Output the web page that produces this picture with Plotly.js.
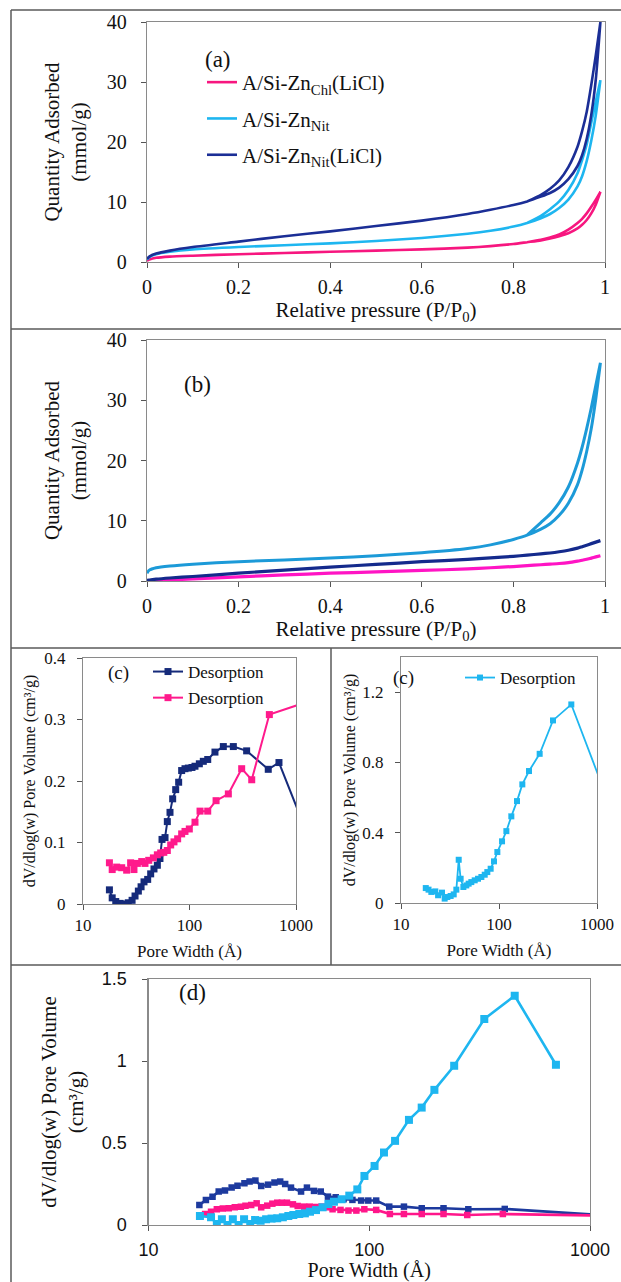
<!DOCTYPE html>
<html><head><meta charset="utf-8">
<script src="https://cdn.plot.ly/plotly-3.0.1.min.js"></script>
<style>html,body{margin:0;padding:0;background:#fff}#chart{width:621px;height:1282px}</style>
</head><body><div id="chart"></div><script>
// ---------- (a) N2 isotherms ----------
const pAds = [0, 0.005, 0.02, 0.05, 0.1, 0.2, 0.3, 0.4, 0.5, 0.6, 0.7, 0.75, 0.8, 0.83, 0.86, 0.88, 0.9, 0.92, 0.94, 0.95, 0.96, 0.97, 0.98, 0.99];
const pDes = [0.99, 0.98, 0.97, 0.96, 0.95, 0.94, 0.92, 0.9, 0.88, 0.86, 0.83];
const aChlLiClAds = [0.2, 0.4, 0.7, 0.9, 1.05, 1.3, 1.5, 1.7, 1.9, 2.1, 2.4, 2.65, 3.0, 3.3, 3.6, 3.9, 4.3, 4.8, 5.6, 6.2, 7.0, 8.1, 9.6, 11.7];
const aChlLiClDes = [11.7, 10.4, 9.2, 8.1, 7.2, 6.5, 5.4, 4.6, 4.1, 3.7, 3.3];
const aNitAds = [0.4, 0.8, 1.3, 1.7, 2.1, 2.5, 2.8, 3.1, 3.5, 4.0, 4.7, 5.2, 5.9, 6.5, 7.3, 8.0, 9.0, 10.4, 12.6, 14.3, 16.8, 20.2, 24.5, 30.3];
const aNitDes = [30.3, 26.8, 23.2, 19.6, 17.0, 14.8, 12.0, 10.1, 8.8, 7.7, 6.5];
const aNitLiClAds = [0.5, 0.9, 1.4, 1.9, 2.5, 3.4, 4.3, 5.1, 6.0, 6.9, 8.0, 8.7, 9.5, 10.1, 10.9, 11.5, 12.4, 13.8, 16.0, 17.8, 20.5, 24.5, 30.5, 40.0];
const aNitLiClDes = [40.0, 34.5, 29.5, 25.0, 21.8, 19.2, 15.8, 13.6, 12.2, 11.2, 10.1];
// ---------- (b) isotherms ----------
const bBlueAds = [1.3, 1.8, 2.2, 2.5, 2.8, 3.2, 3.5, 3.8, 4.2, 4.7, 5.4, 6.0, 6.9, 7.6, 8.6, 9.5, 10.9, 12.9, 16.0, 18.4, 21.5, 25.3, 30.3, 36.2];
const bBlueDes = [36.2, 32.5, 28.7, 25.3, 22.2, 19.6, 15.6, 13.0, 11.1, 9.7, 7.6];
const bNavy = [0.1, 0.15, 0.3, 0.5, 0.75, 1.3, 1.8, 2.3, 2.75, 3.2, 3.6, 3.85, 4.1, 4.3, 4.5, 4.65, 4.85, 5.1, 5.45, 5.7, 5.95, 6.2, 6.45, 6.7];
const bPink = [0, 0.03, 0.1, 0.2, 0.35, 0.7, 1.0, 1.3, 1.5, 1.75, 2.0, 2.2, 2.4, 2.55, 2.7, 2.8, 2.9, 3.05, 3.3, 3.45, 3.6, 3.8, 4.0, 4.2];
// ---------- (c) pore size distributions ----------
const cNavyW = [17.7, 18.8, 20.3, 22.3, 24.4, 26.6, 28.9, 30.8, 33.1, 35.1, 37.4, 40.5, 43.2, 46.4, 49.9, 52.8, 55.2, 58.9, 61.9, 65.6, 69.5, 74.2, 79.1, 84.4, 90.7, 97.5, 105.5, 112.6, 123.7, 134.8, 148.3, 173.4, 207.8, 258, 344, 549, 692, 1100];
const cNavyV = [0.023, 0.010, 0.004, 0.001, 0, 0.002, 0.006, 0.013, 0.021, 0.028, 0.036, 0.040, 0.049, 0.057, 0.063, 0.074, 0.105, 0.108, 0.134, 0.149, 0.171, 0.186, 0.198, 0.217, 0.220, 0.221, 0.222, 0.224, 0.228, 0.232, 0.235, 0.247, 0.256, 0.256, 0.249, 0.219, 0.230, 0.142];
const cPinkW = [17.7, 18.8, 20.7, 23.1, 25.7, 28.0, 30.1, 32.4, 35.6, 38.2, 41.4, 45.8, 49.9, 53.6, 57.4, 61.9, 66.6, 71.5, 77.4, 84.4, 90.7, 99.6, 112.6, 125.6, 148.3, 177.6, 231.6, 309, 384, 562, 1100];
const cPinkV = [0.067, 0.056, 0.060, 0.059, 0.055, 0.067, 0.056, 0.066, 0.069, 0.066, 0.071, 0.075, 0.080, 0.083, 0.084, 0.087, 0.096, 0.101, 0.106, 0.114, 0.118, 0.122, 0.133, 0.151, 0.151, 0.168, 0.179, 0.220, 0.202, 0.308, 0.325];
const cBlueW = [17.9, 19.1, 20.4, 22.4, 23.9, 26.2, 27.9, 29.7, 32.1, 34.5, 36.7, 38.8, 40.6, 43.3, 46.4, 49.0, 52.2, 56.5, 61.1, 66.1, 71.5, 76.0, 82.2, 88.9, 96.2, 107.4, 118.9, 133.6, 152.7, 173.0, 202.4, 260, 355.6, 547, 1100];
const cBlueV = [0.085, 0.076, 0.063, 0.066, 0.044, 0.059, 0.025, 0.034, 0.040, 0.049, 0.076, 0.246, 0.138, 0.091, 0.100, 0.110, 0.119, 0.129, 0.138, 0.148, 0.161, 0.176, 0.195, 0.237, 0.290, 0.351, 0.409, 0.493, 0.580, 0.675, 0.751, 0.849, 1.039, 1.130, 0.685];
// ---------- (d) pore size distributions ----------
const dNavyW = [17.0, 18.2, 19.5, 20.8, 22.2, 23.8, 25.3, 27.2, 28.7, 30.5, 32.4, 34.8, 37.2, 39.5, 41.6, 44.2, 49.1, 52.2, 56.2, 60.3, 65.0, 70.5, 76.5, 83.9, 91.9, 99.0, 107.5, 123.2, 143.6, 172.9, 217, 281, 411, 1100];
const dNavyV = [0.122, 0.153, 0.173, 0.204, 0.210, 0.228, 0.240, 0.254, 0.265, 0.271, 0.238, 0.246, 0.259, 0.265, 0.250, 0.228, 0.204, 0.228, 0.208, 0.204, 0.173, 0.169, 0.157, 0.153, 0.149, 0.149, 0.149, 0.112, 0.112, 0.102, 0.102, 0.096, 0.098, 0.0615];
const dPinkW = [17.0, 18.05, 19.2, 20.4, 21.7, 23.1, 24.6, 26.2, 27.5, 29.2, 30.9, 32.4, 34.5, 36.4, 38.3, 40.2, 42.4, 45.1, 47.4, 50.7, 53.7, 57.1, 60.8, 64.2, 68.2, 74.1, 80.5, 87.4, 95.0, 107.5, 124, 143.6, 172.9, 217, 278, 403, 1100];
const dPinkV = [0.055, 0.067, 0.081, 0.096, 0.100, 0.102, 0.108, 0.112, 0.118, 0.122, 0.132, 0.108, 0.118, 0.130, 0.136, 0.136, 0.136, 0.126, 0.116, 0.112, 0.112, 0.110, 0.112, 0.108, 0.096, 0.092, 0.088, 0.088, 0.096, 0.092, 0.067, 0.067, 0.067, 0.067, 0.061, 0.067, 0.058];
const dBlueW = [17.1, 19.2, 20.4, 21.5, 22.8, 24.1, 25.6, 27.1, 28.9, 30.4, 32.2, 34.1, 36.1, 38.3, 40.6, 43.0, 45.3, 48.2, 51.1, 53.9, 57.4, 61.5, 65.3, 69.2, 75.0, 81.2, 88.3, 95.1, 105.7, 116.6, 130.9, 151.3, 172.8, 197.3, 242.5, 332, 456, 701];
const dBlueV = [0.055, 0.047, 0.006, 0.035, 0.0, 0.035, 0.0, 0.035, 0.006, 0.030, 0.026, 0.035, 0.039, 0.041, 0.047, 0.055, 0.061, 0.067, 0.071, 0.081, 0.091, 0.108, 0.128, 0.142, 0.157, 0.179, 0.217, 0.299, 0.360, 0.442, 0.513, 0.641, 0.716, 0.824, 0.971, 1.256, 1.398, 0.977];

const names = {
  chl: 'A/Si-Zn<sub>Chl</sub>(LiCl)',
  nit: 'A/Si-Zn<sub>Nit</sub>',
  nitLi: 'A/Si-Zn<sub>Nit</sub>(LiCl)',
  des: 'Desorption'
};

const PINK = '#f7167f', LBLUE = '#1eb6f0', NAVY = '#1b2e96';
const PINK_B = '#ff14c4', LBLUE_B = '#1c9ad8', NAVY_B = '#142a8c';
const NAVY_C = '#152a7a', PINK_C = '#ff1a8c';
const NAVY_D = '#1d3a9e', PINK_D = '#ff168a';

const W = 621, H = 1282;
const fx = p => p / W, fy = p => 1 - p / H;
const SERIF = '"Liberation Serif", "Times New Roman", Times, serif';
const SANS = '"Liberation Sans", Arial, Helvetica, sans-serif';
const INK = '#111';

const loop = (ads, des) => ads.concat(des);
const loopX = pAds.concat(pDes);

const traces = [
  // (a)
  {x: loopX, y: loop(aChlLiClAds, aChlLiClDes), xaxis: 'x', yaxis: 'y', mode: 'lines', name: names.chl,
   line: {color: PINK, width: 2.6, shape: 'spline', smoothing: 0.6}, legend: 'legend', legendgroup: 'g1'},
  {x: loopX, y: loop(aNitAds, aNitDes), xaxis: 'x', yaxis: 'y', mode: 'lines', name: names.nit,
   line: {color: LBLUE, width: 2.6, shape: 'spline', smoothing: 0.6}, legend: 'legend', legendgroup: 'g2'},
  {x: loopX, y: loop(aNitLiClAds, aNitLiClDes), xaxis: 'x', yaxis: 'y', mode: 'lines', name: names.nitLi,
   line: {color: NAVY, width: 2.6, shape: 'spline', smoothing: 0.6}, legend: 'legend', legendgroup: 'g3'},
  // (b)
  {x: pAds, y: bPink, xaxis: 'x2', yaxis: 'y2', mode: 'lines', showlegend: false,
   line: {color: PINK_B, width: 3.2, shape: 'spline', smoothing: 0.6}},
  {x: pAds, y: bNavy, xaxis: 'x2', yaxis: 'y2', mode: 'lines', showlegend: false,
   line: {color: NAVY_B, width: 3.2, shape: 'spline', smoothing: 0.6}},
  {x: loopX, y: loop(bBlueAds, bBlueDes), xaxis: 'x2', yaxis: 'y2', mode: 'lines', showlegend: false,
   line: {color: LBLUE_B, width: 3.0, shape: 'spline', smoothing: 0.6}},
  // (c) left
  {x: cNavyW, y: cNavyV, xaxis: 'x3', yaxis: 'y3', mode: 'lines+markers', name: names.des,
   line: {color: NAVY_C, width: 2}, marker: {symbol: 'square', size: 7, color: NAVY_C}, legend: 'legend2', legendgroup: 'c1'},
  {x: cPinkW, y: cPinkV, xaxis: 'x3', yaxis: 'y3', mode: 'lines+markers', name: names.des,
   line: {color: PINK_C, width: 2}, marker: {symbol: 'square', size: 7, color: PINK_C}, legend: 'legend2', legendgroup: 'c2'},
  // (c) right
  {x: cBlueW, y: cBlueV, xaxis: 'x4', yaxis: 'y4', mode: 'lines+markers', name: names.des,
   line: {color: LBLUE, width: 1.8}, marker: {symbol: 'square', size: 6, color: LBLUE}, legend: 'legend3'},
  // (d)
  {x: dNavyW, y: dNavyV, xaxis: 'x5', yaxis: 'y5', mode: 'lines+markers', showlegend: false,
   line: {color: NAVY_D, width: 2.6}, marker: {symbol: 'square', size: 6.5, color: NAVY_D}},
  {x: dPinkW, y: dPinkV, xaxis: 'x5', yaxis: 'y5', mode: 'lines+markers', showlegend: false,
   line: {color: PINK_D, width: 2.6}, marker: {symbol: 'square', size: 6.5, color: PINK_D}},
  {x: dBlueW, y: dBlueV, xaxis: 'x5', yaxis: 'y5', mode: 'lines+markers', showlegend: false,
   line: {color: LBLUE, width: 2.6}, marker: {symbol: 'square', size: 8, color: LBLUE}}
];

function ax(extra) {
  return Object.assign({
    showline: true, mirror: true, linecolor: '#8a8a8a', linewidth: 1.2,
    showgrid: false, zeroline: false, ticks: 'outside', ticklen: 5, tickcolor: '#555', tickwidth: 1,
    fixedrange: true, automargin: false
  }, extra);
}

const fontA = {family: SERIF, size: 20, color: INK};
const fontC = {family: SERIF, size: 17, color: INK};
const fontD = {family: SANS, size: 18, color: INK};
const titleA = {family: SERIF, size: 21, color: INK};

const layout = {
  width: W, height: H, margin: {l: 0, r: 0, t: 0, b: 0},
  paper_bgcolor: '#fff', plot_bgcolor: '#fff', showlegend: true,
  font: {family: SERIF, color: INK},
  // (a)
  xaxis: ax({domain: [fx(147), fx(605)], range: [0, 1], dtick: 0.2, tickfont: fontA, ticklabelstandoff: 2, anchor: 'y',
    title: {text: 'Relative pressure (P/P<sub>0</sub>)', font: titleA, standoff: 4}}),
  yaxis: ax({domain: [fy(262), fy(22)], range: [0, 40], dtick: 10, tickfont: fontA, ticklabelstandoff: 10, anchor: 'x',
    title: {text: 'Quantity Adsorbed<br>(mmol/g)', font: titleA, standoff: 14}}),
  // (b)
  xaxis2: ax({domain: [fx(147), fx(605)], range: [0, 1], dtick: 0.2, tickfont: fontA, ticklabelstandoff: 2, anchor: 'y2',
    title: {text: 'Relative pressure (P/P<sub>0</sub>)', font: titleA, standoff: 4}}),
  yaxis2: ax({domain: [fy(581), fy(340)], range: [0, 40], dtick: 10, tickfont: fontA, ticklabelstandoff: 10, anchor: 'x2',
    title: {text: 'Quantity Adsorbed<br>(mmol/g)', font: titleA, standoff: 14}}),
  // (c) left
  xaxis3: ax({domain: [fx(83), fx(296)], type: 'log', range: [1, 3], dtick: 1, exponentformat: 'none', tickfont: fontC, ticklabelstandoff: 0, anchor: 'y3',
    title: {text: 'Pore Width (Å)', font: fontC, standoff: 11}}),
  yaxis3: ax({domain: [fy(904), fy(658)], range: [0, 0.4], dtick: 0.1, tickfont: fontC, ticklabelstandoff: 8, anchor: 'x3',
    title: {text: 'dV/dlog(w) Pore Volume (cm³/g)', font: {family: SERIF, size: 16, color: INK}, standoff: 4}}),
  // (c) right
  xaxis4: ax({domain: [fx(401), fx(597)], type: 'log', range: [1, 3], dtick: 1, exponentformat: 'none', tickfont: fontC, ticklabelstandoff: 0, anchor: 'y4',
    title: {text: 'Pore Width (Å)', font: fontC, standoff: 11}}),
  yaxis4: ax({domain: [fy(903), fy(657)], range: [0, 1.4], tickvals: [0, 0.4, 0.8, 1.2], tickfont: fontC, ticklabelstandoff: 8, anchor: 'x4',
    title: {text: 'dV/dlog(w) Pore Volume (cm³/g)', font: {family: SERIF, size: 16, color: INK}, standoff: 2}}),
  // (d)
  xaxis5: ax({domain: [fx(148.5), fx(590)], type: 'log', range: [1, 3], dtick: 1, exponentformat: 'none', tickfont: fontD, ticklabelstandoff: 3, anchor: 'y5',
    title: {text: 'Pore Width (Å)', font: {family: SERIF, size: 20, color: INK}, standoff: 3}}),
  yaxis5: ax({domain: [fy(1225), fy(979)], range: [0, 1.5], dtick: 0.5, tickfont: fontD, ticklabelstandoff: 12, anchor: 'x5',
    title: {text: 'dV/dlog(w) Pore Volume<br>(cm³/g)', font: titleA, standoff: 12}}),
  legend: {x: fx(202), y: fy(62), xanchor: 'left', yanchor: 'top', bgcolor: 'rgba(0,0,0,0)',
    font: {family: SERIF, size: 21, color: INK}, tracegroupgap: 6, traceorder: 'grouped'},
  legend2: {x: fx(148), y: fy(654), xanchor: 'left', yanchor: 'top', bgcolor: 'rgba(0,0,0,0)',
    font: {family: SERIF, size: 17, color: INK}, tracegroupgap: 1, traceorder: 'grouped'},
  legend3: {x: fx(460), y: fy(660), xanchor: 'left', yanchor: 'top', bgcolor: 'rgba(0,0,0,0)',
    font: {family: SERIF, size: 17, color: INK}},
  annotations: [
    {text: '(a)', x: fx(203), y: fy(45), xref: 'paper', yref: 'paper', showarrow: false, font: {family: SERIF, size: 23, color: INK}},
    {text: '(b)', x: fx(182), y: fy(370), xref: 'paper', yref: 'paper', showarrow: false, font: {family: SERIF, size: 23, color: INK}},
    {text: '(c)', x: fx(106), y: fy(673), xref: 'paper', yref: 'paper', showarrow: false, font: {family: SERIF, size: 19, color: INK}},
    {text: '(c)', x: fx(416), y: fy(678), xref: 'paper', yref: 'paper', showarrow: false, font: {family: SERIF, size: 19, color: INK}},
    {text: '(d)', x: fx(177), y: fy(1007), xref: 'paper', yref: 'paper', showarrow: false, font: {family: SERIF, size: 23, color: INK}}
  ],
  shapes: [
    [11, 10, 621, 10], [11, 10, 11, 1282], [11, 329, 621, 329], [11, 648, 621, 648],
    [331, 648, 331, 965], [11, 965, 621, 965]
  ].map(s => ({type: 'line', xref: 'paper', yref: 'paper', x0: fx(s[0]), y0: fy(s[1]), x1: fx(s[2]), y1: fy(s[3]),
    line: {color: '#5a5a5a', width: 1.5}, layer: 'below'}))
};

Plotly.newPlot('chart', traces, layout, {staticPlot: true, displayModeBar: false});
</script></body></html>
